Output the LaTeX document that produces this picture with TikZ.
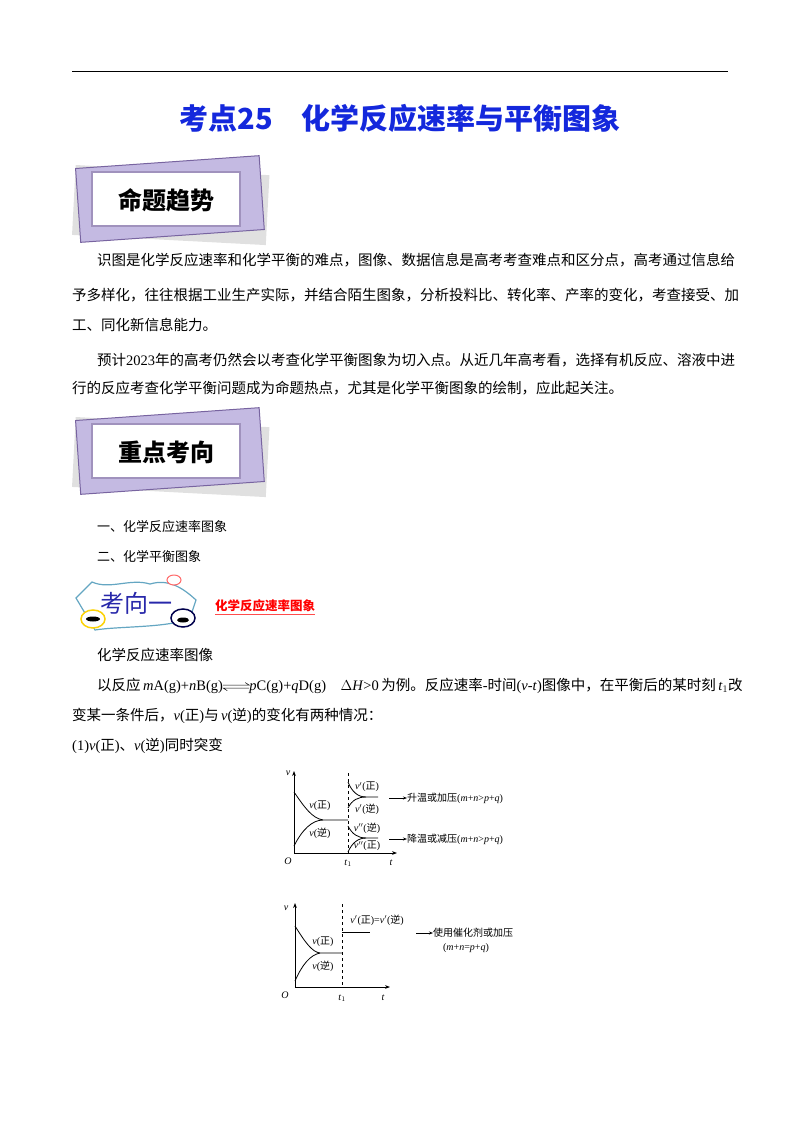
\documentclass[tikz,border=0pt]{standalone}
\usepackage{fontspec}
\setmainfont{Liberation Serif}
\newfontfamily\cjk{Noto Sans CJK SC}
\usetikzlibrary{arrows.meta}
\newcommand{\C}[1]{{\cjk #1}}
\definecolor{lav}{RGB}{196,186,226}
\definecolor{lavd}{RGB}{120,100,160}
\newcommand{\eqarr}{\tikz[baseline=-0.6ex,x=1pt,y=1pt]{\draw[line width=0.5pt] (0,1.5) -- (26,1.5) -- (22,4); \draw[line width=0.5pt] (26,-1.5) -- (0,-1.5) -- (4,-4);}}
\begin{document}
\begin{tikzpicture}[x=1pt,y=-1pt,
  body/.style={anchor=west,inner sep=0pt,font=\fontsize{14.5}{14.5}\selectfont},
  small/.style={inner sep=0pt,font=\fontsize{10}{10}\selectfont},
  ax/.style={line width=0.9pt,-{Stealth[length=5pt]}},
  cv/.style={line width=0.8pt}]
\useasboundingbox (0,0) rectangle (800,1132);
\draw[line width=1pt] (72,72) -- (728,72);
\node (title) at (400,118) {\fontsize{29}{29}\selectfont\color[RGB]{20,40,220}\cjk\bfseries 考点25\quad 化学反应速率与平衡图象};
% banner 1
\fill[black!12,rotate around={-3:(170,200)}] (74,170) rectangle (268,240);
\filldraw[fill=lav,draw=lavd,line width=1pt,rotate around={4:(170,200)}] (78,162) rectangle (262,236);
\filldraw[fill=white,draw=lavd!70,line width=1.5pt] (92,172) rectangle (240,226);
\node (b1) at (166,200) {\fontsize{24}{24}\selectfont\cjk\bfseries 命题趋势};
\node[body] (p1) at (97,260) {\C{识图是化学反应速率和化学平衡的难点，图像、数据信息是高考考查难点和区分点，高考通过信息给}};
\node[body] (p2) at (72,295) {\C{予多样化，往往根据工业生产实际，并结合陌生图象，分析投料比、转化率、产率的变化，考查接受、加}};
\node[body] (p3) at (72,325) {\C{工、同化新信息能力。}};
\node[body] (p4) at (97,360) {\C{预计}2023\C{年的高考仍然会以考查化学平衡图象为切入点。从近几年高考看，选择有机反应、溶液中进}};
\node[body] (p5) at (72,388) {\C{行的反应考查化学平衡问题成为命题热点，尤其是化学平衡图象的绘制，应此起关注。}};
% banner 2
\fill[black!12,rotate around={-3:(170,452)}] (74,422) rectangle (268,492);
\filldraw[fill=lav,draw=lavd,line width=1pt,rotate around={4:(170,452)}] (78,414) rectangle (262,488);
\filldraw[fill=white,draw=lavd!70,line width=1.5pt] (92,424) rectangle (240,478);
\node (b2) at (166,452) {\fontsize{24}{24}\selectfont\cjk\bfseries 重点考向};
\node[body] (l1) at (97,527) {\fontsize{13}{13}\selectfont\C{一、化学反应速率图象}};
\node[body] (l2) at (97,556) {\fontsize{13}{13}\selectfont\C{二、化学平衡图象}};
% banner 3
\draw[cyan!50!gray,line width=1.2pt,fill=white] (76,598) -- (92,582) .. controls (110,590) and (130,578) .. (150,584) .. controls (170,578) and (185,590) .. (196,600) -- (190,618) .. controls (170,628) and (120,626) .. (95,630) -- cycle;
\node (b3) at (136,603) {\fontsize{24}{24}\selectfont\color[RGB]{40,40,170}\cjk 考向一};
\draw[red!60,line width=1pt,fill=white] (174,580) ellipse (7 and 5);
\draw[yellow!70!orange,line width=1.5pt,fill=white] (93,619) ellipse (12 and 9);
\fill[black] (93,619) ellipse (7 and 2.5);
\draw[blue!30!black,line width=1.5pt,fill=white] (183,618) ellipse (12 and 9);
\fill[black] (183,620) ellipse (6 and 2.5);
\node[anchor=west,inner sep=0pt] (h3) at (215,606) {\fontsize{12.5}{12.5}\selectfont\color{red}\cjk\bfseries 化学反应速率图象};
\draw[red!70,line width=1pt] ([yshift=-2pt]h3.south west) -- ([yshift=-2pt]h3.south east);
\node[body] (q1) at (97,655) {\C{化学反应速率图像}};
\node[body] (q2) at (97,686) {\C{以反应}\,\textit{m}A(g)+\textit{n}B(g)\eqarr\textit{p}C(g)+\textit{q}D(g)\quad $\Delta$\textit{H}>0\,\C{为例。反应速率}-\C{时间}(\textit{v}-\textit{t})\C{图像中，在平衡后的某时刻}\,\textit{t}$_1$\C{改}};
\node[body] (q3) at (72,716) {\C{变某一条件后，}\textit{v}(\C{正})\C{与}\,\textit{v}(\C{逆})\C{的变化有两种情况：}};
\node[body] (q4) at (72,746) {(1)\textit{v}(\C{正})\C{、}\textit{v}(\C{逆})\C{同时突变}};
% graph 1
\coordinate (O1) at (294,853);
\coordinate (Y1) at (294,771);
\coordinate (T1) at (397,853);
\draw[ax] (O1) -- (Y1);
\draw[ax] (O1) -- (T1);
\draw[dashed,line width=0.7pt] (348,773) -- (348,853);
\draw[cv] (294,792) .. controls (305,808) and (312,818) .. (323,820) -- (348,820);
\draw[cv] (294,846) .. controls (302,830) and (312,820) .. (323,820);
\draw[cv] (348,782) .. controls (352,792) and (358,797) .. (366,797) -- (378,797);
\draw[cv] (348,808) .. controls (352,800) and (358,797) .. (366,797);
\draw[cv] (348,826) .. controls (352,834) and (358,838) .. (366,838) -- (378,838);
\draw[cv] (348,852) .. controls (352,843) and (358,838) .. (366,838);
\node[small] (o1) at (288,861) {\textit{O}};
\node[small] (t11) at (348,863) {\textit{t}$_1$};
\node[small] (tt1) at (391,863) {\textit{t}};
\node[small] (vv1) at (288,773) {\textit{v}};
\node[small] (a1) at (320,806) {\textit{v}(\C{正})};
\node[small] (a2) at (320,833) {\textit{v}(\C{逆})};
\node[small] (a3) at (367,787) {\textit{v}$'$(\C{正})};
\node[small] (a4) at (367,809) {\textit{v}$'$(\C{逆})};
\node[small] (a5) at (367,828) {\textit{v}$''$(\C{逆})};
\node[small] (a6) at (367,846) {\textit{v}$''$(\C{正})};
\node[small,anchor=west] (r1) at (407,798) {\C{升温或加压}(\textit{m}+\textit{n}>\textit{p}+\textit{q})};
\node[small,anchor=west] (r2) at (407,839) {\C{降温或减压}(\textit{m}+\textit{n}>\textit{p}+\textit{q})};
\draw[-{Stealth[length=4pt]},line width=0.7pt] (389,798) -- (r1.west);
\draw[-{Stealth[length=4pt]},line width=0.7pt] (389,839) -- (r2.west);
% graph 2
\coordinate (O2) at (295,987);
\coordinate (Y2) at (295,903);
\coordinate (T2) at (390,987);
\draw[ax] (O2) -- (Y2);
\draw[ax] (O2) -- (T2);
\draw[dashed,line width=0.7pt] (342,904) -- (342,987);
\draw[cv] (295,926) .. controls (305,942) and (312,952) .. (320,953) -- (342,953);
\draw[cv] (295,981) .. controls (302,965) and (310,955) .. (320,953);
\draw[cv] (342,932) -- (370,932);
\node[small] (o2) at (285,995) {\textit{O}};
\node[small] (t12) at (342,998) {\textit{t}$_1$};
\node[small] (tt2) at (383,998) {\textit{t}};
\node[small] (vv2) at (286,908) {\textit{v}};
\node[small] (b1l) at (323,942) {\textit{v}(\C{正})};
\node[small] (b2l) at (323,966) {\textit{v}(\C{逆})};
\node[small] (b3l) at (377,920) {\textit{v}$'$(\C{正})=\textit{v}$'$(\C{逆})};
\node[small,anchor=west] (r3) at (433,933) {\C{使用催化剂或加压}};
\node[small] (r4) at (466,948) {(\textit{m}+\textit{n}=\textit{p}+\textit{q})};
\draw[-{Stealth[length=4pt]},line width=0.7pt] (416,933) -- (r3.west);
\end{tikzpicture}
\end{document}
